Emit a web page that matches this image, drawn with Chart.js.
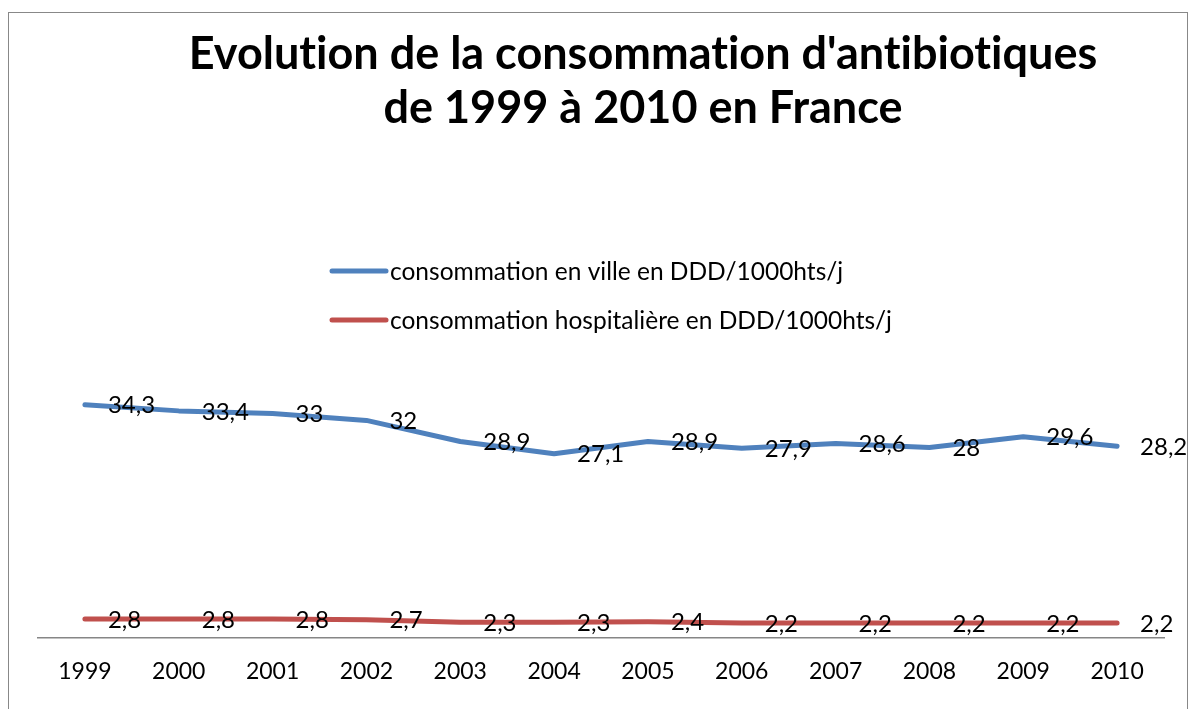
<!DOCTYPE html>
<html>
<head>
<meta charset="utf-8">
<script src="https://cdn.jsdelivr.net/npm/chart.js@4.4.0/dist/chart.umd.min.js"></script>
<style>
  html, body { margin: 0; padding: 0; background: #fff; }
  #wrap { position: relative; width: 1190px; height: 709px; overflow: hidden; }
  #frame { position: absolute; left: 8px; top: 12px; width: 1180px; height: 720px; border: 1.5px solid #888; box-sizing: border-box; }
  #title { position: absolute; left: 0; top: 25px; width: 1286px; text-align: center; font-family: Lato, sans-serif; font-weight: bold; font-size: 45px; line-height: 54px; color: #000; font-variant-ligatures: none; }
  canvas { position: absolute; left: 0; top: 0; }
</style>
</head>
<body>
<div id="wrap">
  <div id="frame"></div>
  <canvas id="chart" width="1190" height="709"></canvas>
  <div id="title">Evolution de la consommation d'antibiotiques<br>de 1999 à 2010 en France</div>
</div>
<script>
const years = ['1999', '2000', '2001', '2002', '2003', '2004', '2005', '2006', '2007', '2008', '2009', '2010']
const villeValues = [34.3, 33.4, 33, 32, 28.9, 27.1, 28.9, 27.9, 28.6, 28, 29.6, 28.2]
const hopitalValues = [2.8, 2.8, 2.8, 2.7, 2.3, 2.3, 2.4, 2.2, 2.2, 2.2, 2.2, 2.2]
const seriesLabels = ['consommation en ville en DDD/1000hts/j', 'consommation hospitalière en DDD/1000hts/j']

const labelFont = '24px Lato, sans-serif'
const legendFont = '24.5px Lato, sans-serif'

// value labels to the right of each point, French decimal comma
const valueLabels = {
  id: 'valueLabels',
  afterDatasetsDraw(chart) {
    const ctx = chart.ctx
    ctx.save()
    ctx.font = labelFont
    ctx.fillStyle = '#000'
    ctx.textAlign = 'left'
    ctx.textBaseline = 'middle'
    chart.data.datasets.forEach((ds, i) => {
      chart.getDatasetMeta(i).data.forEach((pt, j) => {
        ctx.fillText(String(ds.data[j]).replace('.', ','), pt.x + 23, pt.y + 1)
      })
    })
    ctx.restore()
  }
}

// legend drawn inside the plot, as in the original
const insideLegend = {
  id: 'insideLegend',
  afterDraw(chart) {
    const ctx = chart.ctx
    ctx.save()
    ctx.font = legendFont
    ctx.textAlign = 'left'
    ctx.textBaseline = 'middle'
    chart.data.datasets.forEach((ds, i) => {
      const y = 271 + i * 49
      ctx.strokeStyle = ds.borderColor
      ctx.lineWidth = 5
      ctx.lineCap = 'round'
      ctx.beginPath()
      ctx.moveTo(332, y)
      ctx.lineTo(386, y)
      ctx.stroke()
      ctx.fillStyle = '#000'
      ctx.fillText(ds.label, 390, y + 1)
    })
    ctx.restore()
  }
}

new Chart(document.getElementById('chart'), {
  type: 'line',
  data: {
    labels: years,
    datasets: [
      {
        label: seriesLabels[0],
        data: villeValues,
        borderColor: '#4F81BD',
        backgroundColor: '#4F81BD',
        borderWidth: 5,
        pointRadius: 0,
        tension: 0,
        borderCapStyle: 'round',
        borderJoinStyle: 'round'
      },
      {
        label: seriesLabels[1],
        data: hopitalValues,
        borderColor: '#C0504D',
        backgroundColor: '#C0504D',
        borderWidth: 5,
        pointRadius: 0,
        tension: 0,
        borderCapStyle: 'round',
        borderJoinStyle: 'round'
      }
    ]
  },
  options: {
    responsive: false,
    animation: false,
    layout: { padding: { left: 38, right: 26, top: 94, bottom: 0 } },
    plugins: {
      legend: { display: false },
      tooltip: { enabled: false },
      title: { display: false }
    },
    scales: {
      x: {
        offset: true,
        grid: { display: false, drawTicks: false },
        border: { display: true, color: '#868686', width: 1.5 },
        ticks: { color: '#000', font: { family: 'Lato', size: 23 }, padding: 20, maxRotation: 0 },
        afterFit(scale) { scale.height = 71 }
      },
      y: {
        display: false,
        min: 0,
        max: 80
      }
    }
  },
  plugins: [valueLabels, insideLegend]
})
</script>
</body>
</html>
